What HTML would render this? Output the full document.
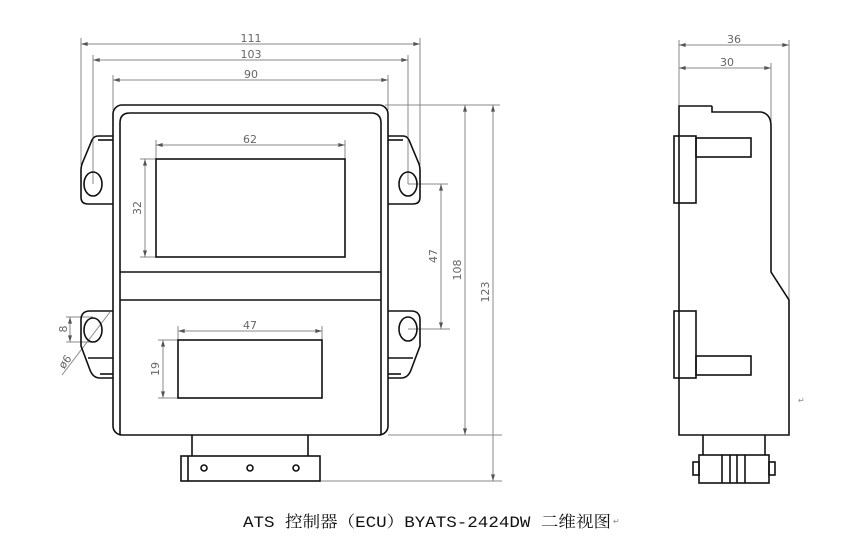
<!DOCTYPE html>
<html><head><meta charset="utf-8"><style>
html,body{margin:0;padding:0;background:#fff;width:860px;height:555px;overflow:hidden}
svg{display:block}
</style></head><body>
<svg width="860" height="555" viewBox="0 0 860 555" xmlns="http://www.w3.org/2000/svg">
<defs>
<marker id="a" viewBox="0 0 10 6" refX="10" refY="3" markerWidth="8" markerHeight="4" orient="auto-start-reverse"><path d="M0,0 L10,3 L0,6 z" fill="#555"/></marker>
</defs>
<g stroke="#888" stroke-width="1" fill="none">
<line x1="81" y1="38" x2="81" y2="165"/><line x1="420" y1="38" x2="420" y2="165"/>
<line x1="93" y1="55" x2="93" y2="184"/><line x1="408" y1="55" x2="408" y2="184"/>
<line x1="113" y1="75" x2="113" y2="110"/><line x1="388" y1="75" x2="388" y2="110"/>
<line x1="156" y1="140" x2="156" y2="159"/><line x1="345" y1="140" x2="345" y2="159"/>
<line x1="140" y1="159" x2="156" y2="159"/><line x1="140" y1="257" x2="156" y2="257"/>
<line x1="178" y1="326" x2="178" y2="340"/><line x1="322" y1="326" x2="322" y2="340"/>
<line x1="158" y1="340" x2="178" y2="340"/><line x1="158" y1="398" x2="178" y2="398"/>
<line x1="408" y1="184" x2="448" y2="184"/><line x1="408" y1="329" x2="450" y2="329"/>
<line x1="385" y1="105" x2="500" y2="105"/><line x1="388" y1="435" x2="502" y2="435"/><line x1="320" y1="481" x2="502" y2="481"/>
<line x1="66" y1="317" x2="93" y2="317"/><line x1="66" y1="342" x2="93" y2="342"/>
<line x1="62" y1="375" x2="110" y2="312"/>
<line x1="679" y1="40" x2="679" y2="106"/><line x1="789" y1="40" x2="789" y2="300"/><line x1="771" y1="63" x2="771" y2="122"/>
<line x1="81" y1="44" x2="420" y2="44" marker-start="url(#a)" marker-end="url(#a)"/>
<line x1="93" y1="60" x2="408" y2="60" marker-start="url(#a)" marker-end="url(#a)"/>
<line x1="113" y1="80" x2="388" y2="80" marker-start="url(#a)" marker-end="url(#a)"/>
<line x1="156" y1="145" x2="345" y2="145" marker-start="url(#a)" marker-end="url(#a)"/>
<line x1="145" y1="159" x2="145" y2="257" marker-start="url(#a)" marker-end="url(#a)"/>
<line x1="178" y1="331" x2="322" y2="331" marker-start="url(#a)" marker-end="url(#a)"/>
<line x1="163" y1="340" x2="163" y2="398" marker-start="url(#a)" marker-end="url(#a)"/>
<line x1="441" y1="184" x2="441" y2="329" marker-start="url(#a)" marker-end="url(#a)"/>
<line x1="465" y1="105" x2="465" y2="435" marker-start="url(#a)" marker-end="url(#a)"/>
<line x1="493" y1="105" x2="493" y2="481" marker-start="url(#a)" marker-end="url(#a)"/>
<line x1="70" y1="317" x2="70" y2="342" marker-start="url(#a)" marker-end="url(#a)"/>
<line x1="679" y1="45" x2="789" y2="45" marker-start="url(#a)" marker-end="url(#a)"/>
<line x1="679" y1="68" x2="771" y2="68" marker-start="url(#a)" marker-end="url(#a)"/>
</g>
<g font-family="'DejaVu Sans','Liberation Sans',sans-serif" font-size="11" fill="#666" text-anchor="middle">
<text x="251" y="42">111</text><text x="251" y="58">103</text><text x="251" y="78">90</text>
<text x="250" y="143">62</text><text x="250" y="329">47</text>
<text x="0" y="0" transform="translate(141,208) rotate(-90)">32</text>
<text x="0" y="0" transform="translate(159,369) rotate(-90)">19</text>
<text x="0" y="0" transform="translate(437,256) rotate(-90)">47</text>
<text x="0" y="0" transform="translate(461,270) rotate(-90)">108</text>
<text x="0" y="0" transform="translate(489,292) rotate(-90)">123</text>
<text x="0" y="0" transform="translate(67,329) rotate(-90)">8</text>
<text x="0" y="0" transform="translate(68,364) rotate(-53)">ø6</text>
<text x="734" y="43">36</text><text x="727" y="66">30</text>
</g>
<g stroke="#111" stroke-width="1.6" fill="none">
<rect x="113" y="105" width="275" height="330" rx="9"/>
<path d="M120,435 V123 Q120,113 130,113 H371 Q381,113 381,123 V435"/>
<line x1="120" y1="272" x2="381" y2="272"/><line x1="120" y1="300" x2="381" y2="300"/>
<rect x="156" y="159" width="189" height="98"/>
<rect x="178" y="340" width="144" height="58"/>
<path d="M113,136 H98 Q94,136 92,140 L82,164 Q81,167 81,170 V197 Q81,204 88,204 H113"/>
<line x1="98" y1="140" x2="113" y2="140"/>
<ellipse cx="93" cy="184" rx="9" ry="12"/>
<path d="M388,136 H403 Q407,136 409,140 L419,164 Q420,167 420,170 V197 Q420,204 413,204 H388"/>
<line x1="403" y1="140" x2="388" y2="140"/>
<ellipse cx="408" cy="184" rx="9" ry="12"/>
<path d="M113,311 H90 Q81,311 81,320 V346 L90,370 Q93,378 100,378 H113"/>
<line x1="88" y1="358" x2="113" y2="358"/><line x1="100" y1="374" x2="113" y2="374"/>
<ellipse cx="93" cy="330" rx="9" ry="12"/>
<path d="M388,311 H411 Q420,311 420,320 V346 L411,370 Q408,378 401,378 H388"/>
<line x1="413" y1="358" x2="388" y2="358"/><line x1="401" y1="374" x2="388" y2="374"/>
<ellipse cx="408" cy="329" rx="9" ry="12"/>
<path d="M192,435 V456 M308,435 V456"/>
<rect x="181" y="456" width="139" height="25"/>
<line x1="188" y1="456" x2="188" y2="481"/>
<circle cx="204" cy="468" r="3"/><circle cx="250" cy="468" r="3"/><circle cx="296" cy="468" r="3"/>
<path d="M679,106 H711 Q712,106 712,107 V112 H761 Q771,114 771,126 V272 L789,300 V435 H679 Z"/>
<rect x="674" y="136" width="22" height="67"/>
<rect x="696" y="138" width="55" height="19"/>
<rect x="674" y="311" width="22" height="67"/>
<rect x="696" y="356" width="55" height="19"/>
<path d="M703,435 V455 M765,435 V455"/>
<rect x="699" y="455" width="70" height="28"/>
<rect x="693" y="462" width="6" height="13"/><rect x="769" y="462" width="6" height="13"/>
<path d="M722,455 V483 M730,455 V483 M737,455 V483 M745,455 V483"/>
</g>
<text x="243" y="527" font-family="'Liberation Mono','Noto Serif CJK SC',serif" font-size="16" fill="#111" textLength="368" lengthAdjust="spacingAndGlyphs">ATS 控制器（ECU）BYATS-2424DW 二维视图</text>
<text x="613" y="524" font-family="'DejaVu Sans',sans-serif" font-size="8" fill="#888">↵</text>
<text x="798" y="403" font-family="'DejaVu Sans',sans-serif" font-size="8" fill="#888">↵</text>
</svg>
</body></html>
